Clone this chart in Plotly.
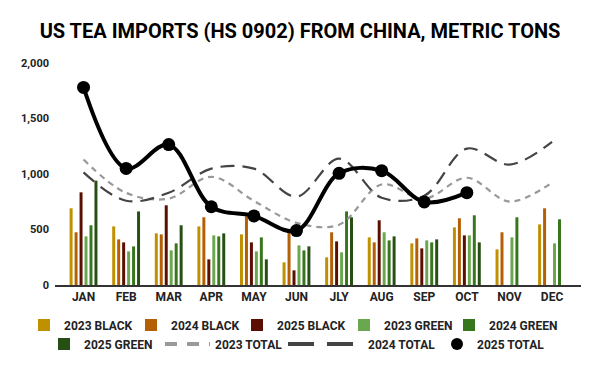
import plotly.graph_objects as go

months = ["JAN", "FEB", "MAR", "APR", "MAY", "JUN", "JLY", "AUG", "SEP", "OCT", "NOV", "DEC"]

black_2023 = [691, 528, 465, 528, 456, 204, 249, 429, 375, 519, 321, 546]
black_2024 = [475, 411, 456, 610, 619, 484, 475, 384, 420, 601, 475, 691]
black_2025 = [835, 384, 718, 231, 384, 132, 393, 583, 330, 447]
green_2023 = [438, 303, 312, 447, 303, 357, 294, 475, 402, 447, 429, 375]
green_2024 = [538, 348, 375, 438, 429, 312, 663, 402, 384, 628, 610, 592]
green_2025 = [940, 663, 538, 465, 231, 348, 610, 438, 411, 384]

total_2023 = [1130, 830, 778, 975, 758, 560, 543, 905, 777, 966, 752, 923]
total_2024 = [1015, 759, 831, 1048, 1048, 796, 1138, 786, 804, 1229, 1085, 1290]
total_2025 = [1780, 1050, 1265, 705, 622, 490, 1006, 1030, 748, 832]

FONT = "Roboto"
L, R, T, B = 55, 19, 63, 86
W, H = 600, 371
PW = W - L - R
PH = H - T - B


def px_x(px):
    return (px - L) / PW


def px_y(py):
    return (H - B - py) / PH


bar_series = [
    ("2023 BLACK", black_2023, "#BF9000", "legend"),
    ("2024 BLACK", black_2024, "#B45F06", "legend7"),
    ("2025 BLACK", black_2025, "#5B0F00", "legend8"),
    ("2023 GREEN", green_2023, "#6AA84F", "legend9"),
    ("2024 GREEN", green_2024, "#38761D", "legend6"),
    ("2025 GREEN", green_2025, "#274E13", "legend2"),
]

fig = go.Figure()
for name, vals, col, lg in bar_series:
    fig.add_trace(go.Bar(
        x=months[:len(vals)], y=vals, name=name,
        marker=dict(color=col, line=dict(width=0)),
        legend=lg,
    ))

fig.add_trace(go.Scatter(
    x=months, y=total_2023, name="2023 TOTAL", mode="lines",
    line=dict(color="#999999", width=2.2, dash="6px,5px", shape="spline", smoothing=1),
    showlegend=False,
))
fig.add_trace(go.Scatter(
    x=months, y=total_2024, name="2024 TOTAL", mode="lines",
    line=dict(color="#444444", width=2.2, dash="14px,8px", shape="spline", smoothing=1),
    showlegend=False,
))
fig.add_trace(go.Scatter(
    x=months[:len(total_2025)], y=total_2025, name="2025 TOTAL", mode="lines+markers",
    line=dict(color="#000000", width=4, shape="spline", smoothing=1),
    marker=dict(color="#000000", size=13),
    showlegend=False,
))

# legend-only entries styled like the reference legend keys
fig.add_trace(go.Scatter(
    x=[None], y=[None], name="2023 TOTAL", mode="lines",
    line=dict(color="#999999", width=4, dash="12px,10px"), legend="legend3",
))
fig.add_trace(go.Scatter(
    x=[None], y=[None], name="2024 TOTAL", mode="lines",
    line=dict(color="#444444", width=4, dash="26px,13px"), legend="legend4",
))
fig.add_trace(go.Scatter(
    x=[None], y=[None], name="2025 TOTAL", mode="markers",
    marker=dict(color="#000000", size=12), legend="legend5",
))

leg_font = dict(family=FONT, size=12, color="#222222", weight="bold")


def leg(xpx, ypx, itemwidth=30):
    return dict(
        orientation="h", x=px_x(xpx), xanchor="left", y=px_y(ypx), yanchor="middle",
        font=leg_font, itemwidth=itemwidth, tracegroupgap=0, bgcolor="rgba(0,0,0,0)",
        traceorder="normal",
    )


fig.update_layout(
    width=W, height=H,
    margin=dict(l=L, r=R, t=T, b=B),
    paper_bgcolor="white", plot_bgcolor="white",
    font=dict(family=FONT, color="#222222"),
    title=dict(
        text="<b>US TEA IMPORTS (HS 0902) FROM CHINA, METRIC TONS</b>",
        x=0.5, xanchor="center", y=0.917, yanchor="middle",
        font=dict(family=FONT, size=20, color="#000000"),
    ),
    barmode="group", bargap=0.30, bargroupgap=0.4,
    showlegend=True,
    hovermode=False,
    legend=leg(24, 325),
    legend7=leg(131, 325),
    legend8=leg(237, 325),
    legend9=leg(344, 325),
    legend6=leg(449, 325),
    legend2=leg(44, 344),
    legend3=leg(160, 344, 45),
    legend4=leg(283, 344, 75),
    legend5=leg(437, 344),
    xaxis=dict(
        type="category", categoryorder="array", categoryarray=months,
        range=[-0.67, 11.68], showgrid=False, showline=True, linecolor="#333333", linewidth=1.5,
        ticks="", tickfont=dict(family=FONT, size=12, color="#222222", weight="bold"),
        fixedrange=True,
    ),
    yaxis=dict(
        range=[0, 2000], tickvals=[0, 500, 1000, 1500, 2000],
        ticktext=["0", "500", "1,000", "1,500", "2,000"],
        showgrid=False, zeroline=False, showline=False, ticks="",
        tickfont=dict(family=FONT, size=11, color="#222222", weight="bold"),
        ticklabelstandoff=5, fixedrange=True,
    ),
)

fig.write_html(
    "out.html",
    config={"displayModeBar": False},
    post_script="document.body.style.margin='0';document.body.style.overflow='hidden';",
)
